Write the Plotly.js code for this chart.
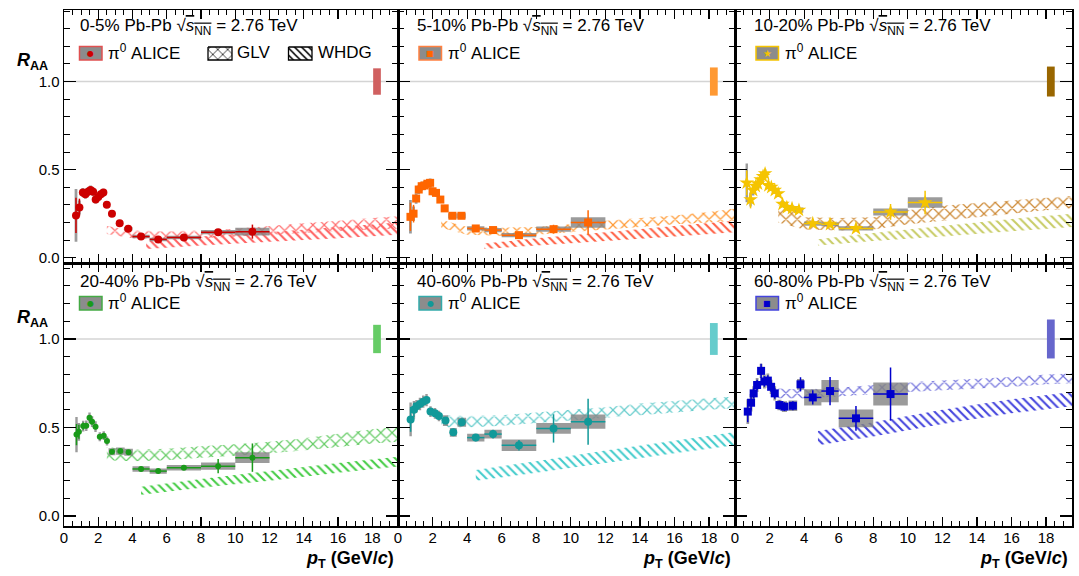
<!DOCTYPE html>
<html><head><meta charset="utf-8">
<script src="https://cdn.plot.ly/plotly-3.0.1.min.js"></script>
<style>html,body{margin:0;padding:0;background:#fff}#chart{width:1079px;height:576px}</style>
</head><body><div id="chart"></div>
<script>
// ---------------- DATA ----------------
const centralities = ['0-5%', '5-10%', '10-20%', '20-40%', '40-60%', '60-80%'];
const xTickVals = [0, 2, 4, 6, 8, 10, 12, 14, 16, 18];
const yTickVals = [0.0, 0.5, 1.0];

// pi0 ALICE RAA
const pt_0_5   = [0.7,0.9,1.1,1.25,1.4,1.55,1.7,1.85,2.0,2.15,2.3,2.5,2.8,3.25,3.75,4.5,5.5,7,9,11];
const raa_0_5  = [0.24,0.285,0.37,0.36,0.375,0.385,0.375,0.33,0.345,0.36,0.37,0.30,0.25,0.195,0.165,0.12,0.104,0.115,0.145,0.148];
const stat_0_5 = [0.10,0.05,0.02,0.015,0.015,0.015,0.015,0.015,0.015,0.015,0.015,0.012,0.01,0.008,0.008,0.006,0.006,0.008,0.015,0.04];
const sys_0_5  = [0.15,0.04,0.025,0.025,0.025,0.025,0.025,0.022,0.022,0.022,0.022,0.018,0.015,0.012,0.01,0.01,0.01,0.01,0.012,0.022];
const binw_0_5 = [0.08,0.08,0.08,0.08,0.08,0.08,0.08,0.08,0.08,0.08,0.08,0.08,0.15,0.2,0.25,0.5,0.5,1,1,1];

const pt_5_10   = [0.72,0.9,1.05,1.2,1.37,1.54,1.7,1.86,2.0,2.2,2.45,2.7,3.15,3.67,4.5,5.5,7,9,11];
const raa_5_10  = [0.232,0.25,0.336,0.387,0.406,0.41,0.42,0.425,0.377,0.368,0.33,0.28,0.238,0.238,0.166,0.157,0.128,0.162,0.2];
const stat_5_10 = [0.08,0.05,0.02,0.015,0.015,0.015,0.015,0.015,0.015,0.015,0.012,0.01,0.008,0.008,0.006,0.006,0.008,0.025,0.07];
const sys_5_10  = [0.095,0.04,0.03,0.025,0.025,0.025,0.025,0.025,0.022,0.022,0.02,0.018,0.015,0.015,0.012,0.012,0.012,0.015,0.03];
const binw_5_10 = [0.08,0.08,0.08,0.08,0.08,0.08,0.08,0.08,0.08,0.08,0.08,0.2,0.25,0.25,0.5,0.5,1,1,1];

const pt_10_20   = [0.68,0.9,1.05,1.2,1.33,1.48,1.62,1.74,1.93,2.1,2.3,2.5,2.75,3.0,3.3,3.7,4.5,5.5,7,9,11];
const raa_10_20  = [0.425,0.33,0.383,0.406,0.42,0.443,0.462,0.477,0.41,0.40,0.383,0.364,0.304,0.285,0.28,0.27,0.194,0.19,0.166,0.26,0.313];
const stat_10_20 = [0.07,0.05,0.02,0.015,0.015,0.015,0.015,0.015,0.015,0.012,0.012,0.012,0.01,0.01,0.01,0.01,0.008,0.008,0.01,0.045,0.067];
const sys_10_20  = [0.11,0.04,0.03,0.025,0.025,0.025,0.025,0.025,0.022,0.022,0.02,0.02,0.018,0.015,0.015,0.015,0.012,0.012,0.012,0.02,0.03];
const binw_10_20 = [0.07,0.07,0.07,0.07,0.07,0.07,0.07,0.07,0.07,0.07,0.07,0.07,0.12,0.15,0.15,0.25,0.5,0.5,1,1,1];

const pt_20_40   = [0.73,0.87,1.12,1.3,1.49,1.64,1.84,2.09,2.32,2.51,2.8,3.29,3.77,4.5,5.5,7,9,11];
const raa_20_40  = [0.46,0.476,0.508,0.51,0.555,0.533,0.505,0.448,0.454,0.424,0.363,0.367,0.36,0.266,0.254,0.273,0.282,0.33];
const stat_20_40 = [0.06,0.04,0.02,0.015,0.015,0.015,0.015,0.015,0.015,0.012,0.01,0.01,0.01,0.008,0.008,0.01,0.04,0.08];
const sys_20_40  = [0.10,0.05,0.03,0.03,0.03,0.03,0.03,0.025,0.025,0.025,0.02,0.02,0.02,0.015,0.015,0.015,0.02,0.03];
const binw_20_40 = [0.07,0.07,0.07,0.07,0.07,0.07,0.07,0.07,0.07,0.07,0.2,0.25,0.25,0.5,0.5,1,1,1];

const pt_40_60   = [0.73,0.92,1.07,1.27,1.46,1.65,1.88,2.14,2.37,2.75,3.2,3.69,4.5,5.5,7,9,11];
const raa_40_60  = [0.546,0.6,0.62,0.633,0.646,0.655,0.59,0.58,0.565,0.539,0.473,0.53,0.443,0.463,0.40,0.495,0.533];
const stat_40_60 = [0.07,0.04,0.02,0.02,0.02,0.02,0.02,0.02,0.02,0.02,0.02,0.02,0.02,0.025,0.03,0.08,0.13];
const sys_40_60  = [0.095,0.05,0.035,0.035,0.035,0.035,0.03,0.03,0.03,0.03,0.025,0.025,0.022,0.025,0.033,0.03,0.04];
const binw_40_60 = [0.07,0.07,0.07,0.07,0.07,0.07,0.07,0.07,0.07,0.15,0.2,0.25,0.5,0.5,1,1,1];

const pt_60_80   = [0.74,0.93,1.08,1.28,1.51,1.7,1.9,2.09,2.3,2.57,2.86,3.35,3.79,4.5,5.5,7,9];
const raa_60_80  = [0.59,0.64,0.693,0.74,0.82,0.76,0.765,0.73,0.693,0.627,0.618,0.623,0.744,0.67,0.706,0.552,0.689];
const stat_60_80 = [0.06,0.04,0.03,0.03,0.04,0.03,0.03,0.03,0.03,0.025,0.025,0.025,0.04,0.04,0.08,0.07,0.15];
const sys_60_80  = [0.07,0.05,0.04,0.04,0.04,0.04,0.04,0.04,0.04,0.03,0.03,0.03,0.03,0.046,0.063,0.05,0.065];
const binw_60_80 = [0.08,0.08,0.08,0.08,0.08,0.08,0.08,0.08,0.08,0.12,0.15,0.25,0.2,0.5,0.5,1,1];

// normalisation uncertainty around RAA = 1
const normUnc = [0.075, 0.08, 0.085, 0.08, 0.09, 0.11];

// GLV band
const glvPt = [2.5, 4, 6, 8, 10, 12, 14, 16, 18, 19.5];
const glvLo_0_5   = [0.135,0.11,0.105,0.11,0.12,0.13,0.14,0.15,0.16,0.165];
const glvHi_0_5   = [0.18,0.155,0.15,0.155,0.165,0.18,0.195,0.21,0.225,0.235];
const glvLo_5_10  = [0.17,0.13,0.125,0.13,0.145,0.16,0.175,0.19,0.20,0.21];
const glvHi_5_10  = [0.215,0.175,0.17,0.175,0.19,0.21,0.225,0.24,0.26,0.28];
const glvLo_10_20 = [0.20,0.16,0.155,0.16,0.19,0.21,0.23,0.25,0.27,0.28];
const glvHi_10_20 = [0.30,0.23,0.225,0.23,0.27,0.295,0.31,0.325,0.34,0.35];
const glvLo_20_40 = [0.315,0.31,0.315,0.33,0.34,0.355,0.37,0.39,0.41,0.42];
const glvHi_20_40 = [0.39,0.375,0.38,0.395,0.405,0.42,0.44,0.465,0.49,0.505];
const glvLo_40_60 = [0.50,0.50,0.51,0.525,0.54,0.555,0.57,0.585,0.60,0.61];
const glvHi_40_60 = [0.57,0.565,0.57,0.585,0.60,0.615,0.635,0.65,0.665,0.675];
const glvLo_60_80 = [0.665,0.665,0.675,0.69,0.70,0.71,0.72,0.73,0.745,0.75];
const glvHi_60_80 = [0.72,0.715,0.725,0.74,0.755,0.765,0.775,0.785,0.80,0.805];

// WHDG band
const whdgPt_0_5   = [4.8, 8, 12, 16, 19.5];
const whdgLo_0_5   = [0.05,0.07,0.09,0.11,0.13];
const whdgHi_0_5   = [0.095,0.12,0.145,0.175,0.2];
const whdgPt_5_10  = [5.0, 8, 12, 16, 19.5];
const whdgLo_5_10  = [0.05,0.07,0.095,0.12,0.145];
const whdgHi_5_10  = [0.08,0.11,0.145,0.18,0.21];
const whdgPt_10_20 = [4.8, 8, 12, 16, 19.5];
const whdgLo_10_20 = [0.07,0.095,0.12,0.15,0.175];
const whdgHi_10_20 = [0.105,0.14,0.18,0.22,0.25];
const whdgPt_20_40 = [4.5, 8, 12, 16, 19.5];
const whdgLo_20_40 = [0.12,0.16,0.20,0.245,0.28];
const whdgHi_20_40 = [0.165,0.21,0.255,0.30,0.335];
const whdgPt_40_60 = [4.5, 8, 12, 16, 19.5];
const whdgLo_40_60 = [0.20,0.245,0.30,0.355,0.40];
const whdgHi_40_60 = [0.26,0.31,0.37,0.425,0.475];
const whdgPt_60_80 = [4.8, 8, 12, 16, 19.5];
const whdgLo_60_80 = [0.40,0.45,0.52,0.58,0.62];
const whdgHi_60_80 = [0.48,0.53,0.60,0.66,0.70];

// ---------------- STYLE ----------------
const panels = [
  {x:pt_0_5, y:raa_0_5, st:stat_0_5, sy:sys_0_5, bw:binw_0_5, gP:glvPt, gL:glvLo_0_5, gH:glvHi_0_5, wP:whdgPt_0_5, wL:whdgLo_0_5, wH:whdgHi_0_5,
   col:'#cc0000', sym:'circle', ms:8, glyph:'●', box:'#e05050', norm:'#d06060', glv:'#ff7070', whdg:'#ff6060'},
  {x:pt_5_10, y:raa_5_10, st:stat_5_10, sy:sys_5_10, bw:binw_5_10, gP:glvPt, gL:glvLo_5_10, gH:glvHi_5_10, wP:whdgPt_5_10, wL:whdgLo_5_10, wH:whdgHi_5_10,
   col:'#ff6600', sym:'square', ms:8, glyph:'■', box:'#ff8040', norm:'#ff9933', glv:'#ff9933', whdg:'#ff6044'},
  {x:pt_10_20, y:raa_10_20, st:stat_10_20, sy:sys_10_20, bw:binw_10_20, gP:glvPt, gL:glvLo_10_20, gH:glvHi_10_20, wP:whdgPt_10_20, wL:whdgLo_10_20, wH:whdgHi_10_20,
   col:'#f5c400', sym:'star', ms:11, glyph:'★', box:'#f5c400', norm:'#996600', glv:'#cc8833', whdg:'#c8cc66'},
  {x:pt_20_40, y:raa_20_40, st:stat_20_40, sy:sys_20_40, bw:binw_20_40, gP:glvPt, gL:glvLo_20_40, gH:glvHi_20_40, wP:whdgPt_20_40, wL:whdgLo_20_40, wH:whdgHi_20_40,
   col:'#1a9a1a', sym:'circle', ms:6, glyph:'●', box:'#44aa44', norm:'#66cc66', glv:'#66cc66', whdg:'#44cc44'},
  {x:pt_40_60, y:raa_40_60, st:stat_40_60, sy:sys_40_60, bw:binw_40_60, gP:glvPt, gL:glvLo_40_60, gH:glvHi_40_60, wP:whdgPt_40_60, wL:whdgLo_40_60, wH:whdgHi_40_60,
   col:'#119999', sym:'circle', ms:8, glyph:'●', box:'#33aaaa', norm:'#66cccc', glv:'#66cccc', whdg:'#44cccc'},
  {x:pt_60_80, y:raa_60_80, st:stat_60_80, sy:sys_60_80, bw:binw_60_80, gP:glvPt, gL:glvLo_60_80, gH:glvHi_60_80, wP:whdgPt_60_80, wL:whdgLo_60_80, wH:whdgHi_60_80,
   col:'#0000cc', sym:'square', ms:8, glyph:'■', box:'#4444dd', norm:'#6666cc', glv:'#7777dd', whdg:'#4444dd'}
];

// frame positions in pixels
const W = 1079, H = 576;
const colPx = [[64, 398], [398, 735], [735, 1072]];
const rowPx = [[10, 263], [263, 526]];
const rowRange = [[-0.03, 1.406], [-0.056, 1.429]];
const xRange = [0, 19.5];
const FONT = 'Liberation Sans, Arial, sans-serif';

const traces = [];
const layout = {
  width: W, height: H, margin: {l:0, r:0, t:0, b:0},
  paper_bgcolor: '#fff', plot_bgcolor: 'rgba(0,0,0,0)',
  showlegend: false, font: {family: FONT, size: 15, color: '#000'},
  shapes: [], annotations: []
};

function band(xs, lo, hi) {
  return {x: xs.concat(xs.slice().reverse()), y: lo.concat(hi.slice().reverse())};
}

panels.forEach((p, i) => {
  const s = i === 0 ? '' : String(i + 1);
  const xa = 'x' + s, ya = 'y' + s;
  const col = i % 3, row = Math.floor(i / 3);
  const [x0, x1] = colPx[col], [y0, y1] = rowPx[row];

  layout['xaxis' + s] = {
    domain: [x0 / W, x1 / W], range: xRange, anchor: ya,
    tickmode: 'array', tickvals: xTickVals, ticks: 'inside', ticklen: 9, tickwidth: 1.2, tickcolor: '#000',
    minor: {dtick: 0.5, tick0: 0, ticks: 'inside', ticklen: 5, tickwidth: 1, tickcolor: '#000', showgrid: false},
    showticklabels: row === 1, tickfont: {family: 'Liberation Sans Narrow, Liberation Sans, Arial', size: 15},
    ticklabelstandoff: -3,
    showline: true, linecolor: '#000', linewidth: 1.5, mirror: 'allticks', showgrid: false, zeroline: false,
    fixedrange: true
  };
  layout['yaxis' + s] = {
    domain: [1 - y1 / H, 1 - y0 / H], range: rowRange[row], anchor: xa,
    tickmode: 'array', tickvals: yTickVals, tickformat: '.1f', ticks: 'inside', ticklen: 12, tickwidth: 1.2, tickcolor: '#000',
    minor: {dtick: 0.1, tick0: 0, ticks: 'inside', ticklen: 6, tickwidth: 1, tickcolor: '#000', showgrid: false},
    showticklabels: col === 0, tickfont: {family: FONT, size: 15},
    showline: true, linecolor: '#000', linewidth: 1.5, mirror: 'allticks', showgrid: false, zeroline: false,
    fixedrange: true
  };

  // RAA = 1 reference line
  layout.shapes.push({type: 'line', xref: xa + ' domain', yref: ya, x0: 0, x1: 1, y0: 1, y1: 1,
    line: {color: '#d4d4d4', width: 1.5}, layer: 'below'});
  // normalisation uncertainty box
  layout.shapes.push({type: 'rect', xref: xa, yref: ya, x0: 18.05, x1: 18.5, y0: 1 - normUnc[i], y1: 1 + normUnc[i],
    fillcolor: p.norm, line: {width: 0}});

  // GLV band
  const g = band(p.gP, p.gL, p.gH);
  traces.push({type: 'scatter', xaxis: xa, yaxis: ya, x: g.x, y: g.y, mode: 'none', fill: 'toself',
    fillcolor: 'rgba(0,0,0,0)', hoverinfo: 'skip',
    fillpattern: {shape: 'x', fgcolor: p.glv, bgcolor: 'rgba(0,0,0,0)', size: 8, solidity: 0.28}});
  // WHDG band
  const w = band(p.wP, p.wL, p.wH);
  traces.push({type: 'scatter', xaxis: xa, yaxis: ya, x: w.x, y: w.y, mode: 'none', fill: 'toself',
    fillcolor: 'rgba(0,0,0,0)', hoverinfo: 'skip',
    fillpattern: {shape: '\\', fgcolor: p.whdg, bgcolor: 'rgba(0,0,0,0)', size: 6, solidity: 0.35}});

  // systematic boxes
  const bx = [], by = [];
  p.x.forEach((v, k) => {
    const l = v - p.bw[k], r = v + p.bw[k], lo = p.y[k] - p.sy[k], hi = p.y[k] + p.sy[k];
    bx.push(l, r, r, l, l, null); by.push(lo, lo, hi, hi, lo, null);
  });
  traces.push({type: 'scatter', xaxis: xa, yaxis: ya, x: bx, y: by, mode: 'none', fill: 'toself',
    fillcolor: 'rgba(130,130,130,0.8)', hoverinfo: 'skip'});

  // data points
  traces.push({type: 'scatter', xaxis: xa, yaxis: ya, x: p.x, y: p.y, mode: 'markers',
    marker: {symbol: p.sym, size: p.ms, color: p.col, line: {width: 0}},
    error_y: {type: 'data', array: p.st, visible: true, color: p.col, thickness: 1.5, width: 0},
    error_x: {type: 'data', array: p.bw.map(b => b >= 0.5 ? b : 0), visible: true, color: p.col, thickness: 1.5, width: 0}});

  // header text
  const tx = [78, 415, 752][col], ty = [27, 283][row];
  layout.annotations.push({xref: 'paper', yref: 'paper', x: tx / W, y: 1 - ty / H, xanchor: 'left', yanchor: 'middle',
    showarrow: false, font: {family: FONT, size: 17},
    text: centralities[i] + ' Pb-Pb √<span style="text-decoration:overline"><i>s</i><sub>NN</sub></span> = 2.76 TeV'});

  // legend entry: pi0 ALICE
  const lx0 = [79.5, 419, 756][col], lx1 = lx0 + 22.5;
  const ly0 = [46.5, 296.5][row], ly1 = ly0 + 13.5;
  layout.shapes.push({type: 'rect', xref: 'paper', yref: 'paper', x0: lx0 / W, x1: lx1 / W, y0: 1 - ly1 / H, y1: 1 - ly0 / H,
    fillcolor: '#8c8c8c', line: {color: p.box, width: 1.5}});
  layout.annotations.push({xref: 'paper', yref: 'paper', x: (lx0 + lx1) / 2 / W, y: 1 - (ly0 + ly1) / 2 / H,
    xanchor: 'center', yanchor: 'middle', showarrow: false, text: p.glyph,
    font: {family: 'DejaVu Sans', size: p.sym === 'star' ? 10 : 8, color: p.col}});
  layout.annotations.push({xref: 'paper', yref: 'paper', x: (lx1 + 4) / W, y: 1 - ((ly0 + ly1) / 2 - 1) / H,
    xanchor: 'left', yanchor: 'middle', showarrow: false, text: 'π<sup>0</sup> ALICE',
    font: {family: FONT, size: 17}});

  // x-axis title (bottom row)
  if (row === 1) {
    layout.annotations.push({xref: 'paper', yref: 'paper', x: (x1 - 2) / W, y: 1 - 559 / H, xanchor: 'right', yanchor: 'middle',
      showarrow: false, text: '<b><i>p</i><sub>T</sub> (GeV/<i>c</i>)</b>', font: {family: FONT, size: 18}});
  }
});

// y-axis titles
[62, 318].forEach(yy => {
  layout.annotations.push({xref: 'paper', yref: 'paper', x: 32 / W, y: 1 - yy / H, xanchor: 'center', yanchor: 'middle',
    showarrow: false, text: '<b><i>R</i><sub>AA</sub></b>', font: {family: FONT, size: 18}});
});

// Theory legend in first panel (overlay pixel axis)
layout.xaxis7 = {domain: [0, 1], range: [0, W], visible: false, fixedrange: true, anchor: 'y7'};
layout.yaxis7 = {domain: [0, 1], range: [H, 0], visible: false, fixedrange: true, anchor: 'x7'};
const legGLV = {x: [208, 232, 232, 208, 208], y: [47, 47, 60, 60, 47]};
const legWHDG = {x: [288.5, 312, 312, 288.5, 288.5], y: [47, 47, 60, 60, 47]};
traces.push({type: 'scatter', xaxis: 'x7', yaxis: 'y7', x: legGLV.x, y: legGLV.y, mode: 'lines', fill: 'toself',
  fillcolor: 'rgba(0,0,0,0)', line: {color: '#000', width: 1.3}, hoverinfo: 'skip',
  fillpattern: {shape: 'x', fgcolor: '#000', bgcolor: 'rgba(0,0,0,0)', size: 7, solidity: 0.2}});
traces.push({type: 'scatter', xaxis: 'x7', yaxis: 'y7', x: legWHDG.x, y: legWHDG.y, mode: 'lines', fill: 'toself',
  fillcolor: 'rgba(0,0,0,0)', line: {color: '#000', width: 1.3}, hoverinfo: 'skip',
  fillpattern: {shape: '\\', fgcolor: '#000', bgcolor: 'rgba(0,0,0,0)', size: 5, solidity: 0.3}});
layout.annotations.push({xref: 'paper', yref: 'paper', x: 235 / W, y: 1 - 52.5 / H, xanchor: 'left', yanchor: 'middle',
  showarrow: false, text: 'GLV', font: {family: FONT, size: 17}});
layout.annotations.push({xref: 'paper', yref: 'paper', x: 316 / W, y: 1 - 52.5 / H, xanchor: 'left', yanchor: 'middle',
  showarrow: false, text: 'WHDG', font: {family: FONT, size: 17}});

Plotly.newPlot('chart', traces, layout, {displayModeBar: false, staticPlot: true});
</script>
</body></html>
